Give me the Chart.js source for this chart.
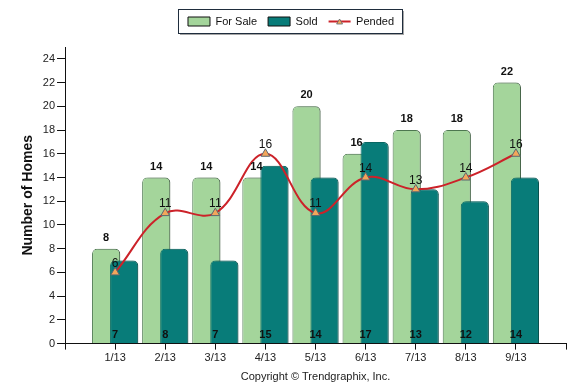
<!DOCTYPE html>
<html lang="en">
  <head>
    <meta charset="utf-8">
    <title>Homes</title>
    <script src="https://cdn.jsdelivr.net/npm/chart.js@4.4.0/dist/chart.umd.min.js"></script>
    <style>
      body { margin: 0; background: #fff; }
    </style>
  </head>
  <body>
    <canvas id="chart" width="582" height="392"></canvas>

    <script type="text/javascript">

    // blank slots at both ends so months sit on ticks
    var months = ["", "1/13", "2/13", "3/13", "4/13", "5/13", "6/13", "7/13", "8/13", "9/13", ""]

    var forSale = [null, 8, 14, 14, 14, 20, 16, 18, 18, 22, null]
    var sold    = [null, 7, 8, 7, 15, 14, 17, 13, 12, 14, null]
    var pended  = [null, 6, 11, 11, 16, 11, 14, 13, 14, 16, null]

    var yTicks = [0, 2, 4, 6, 8, 10, 12, 14, 16, 18, 20, 22, 24]

    Chart.defaults.font.family = "'Liberation Sans', Arial, sans-serif"
    Chart.defaults.color = '#222'

    // draw For Sale, then Sold over it, then the line; value labels; legend frame
    var extras = {
      id: 'extras',
      afterInit: function(chart){
        // leave a gap under the legend
        var fit = chart.legend.fit
        chart.legend.fit = function(){
          fit.call(this)
          this.height += 10
        }
      },
      beforeDatasetsDraw: function(chart){
        var ctx = chart.ctx
        for(var i = 0; i < 3; i++){
          ctx.save()
          if(i < 2){
            ctx.shadowColor = 'rgba(0,0,0,0.25)'
            ctx.shadowOffsetX = 3
            ctx.shadowOffsetY = 0
            ctx.shadowBlur = 1
          }
          chart.getDatasetMeta(i).controller.draw()
          ctx.restore()
        }
        return false
      },
      afterDraw: function(chart){
        var ctx = chart.ctx
        var xs = chart.scales.x
        var y0 = chart.scales.y.getPixelForValue(0)
        ctx.save()
        ctx.fillStyle = '#111'
        ctx.textAlign = 'center'
        ctx.textBaseline = 'middle'

        ctx.font = "bold 11px 'Liberation Sans', Arial, sans-serif"
        chart.getDatasetMeta(0).data.forEach(function(bar, i){
          if(forSale[i] == null) return
          ctx.fillText(forSale[i], bar.x, bar.y - 11)
        })
        sold.forEach(function(v, i){
          if(v == null) return
          ctx.fillText(v, xs.getPixelForValue(i), y0 - 9)
        })

        ctx.font = "12px 'Liberation Sans', Arial, sans-serif"
        chart.getDatasetMeta(2).data.forEach(function(pt, i){
          if(pended[i] == null) return
          ctx.fillText(pended[i], pt.x, pt.y - 9)
        })
        ctx.restore()

        var boxes = chart.legend.legendHitBoxes
        if(!boxes || !boxes.length) return
        var first = boxes[0], last = boxes[boxes.length-1]
        var x1 = first.left - 10, x2 = last.left + last.width + 8
        var y1 = first.top - 7, y2 = first.top + first.height + 6
        ctx.save()
        ctx.fillStyle = 'rgba(0,0,0,0.35)'
        ctx.fillRect(x1 + 2, y1 + 2, x2 - x1, y2 - y1)
        ctx.fillStyle = '#fff'
        ctx.fillRect(x1, y1, x2 - x1, y2 - y1)
        ctx.strokeStyle = '#1f2d3d'
        ctx.lineWidth = 1
        ctx.strokeRect(x1 + 0.5, y1 + 0.5, x2 - x1, y2 - y1)
        ctx.restore()
        // legend again on top of the frame
        chart.legend.draw()
        var p = boxes[2]
        var cx = p.left + 11, cy = p.top + 6
        ctx.save()
        ctx.fillStyle = '#f4a65a'
        ctx.strokeStyle = '#5b6770'
        ctx.lineWidth = 0.8
        ctx.beginPath()
        ctx.moveTo(cx, cy - 3)
        ctx.lineTo(cx + 3, cy + 2)
        ctx.lineTo(cx - 3, cy + 2)
        ctx.closePath()
        ctx.fill()
        ctx.stroke()
        ctx.restore()
      }
    }

    var ctx = document.getElementById('chart').getContext('2d');
    var chart = new Chart(ctx, {
        type: 'bar',
        data: {
            labels: months,
            datasets: [{
                label: 'For Sale',
                data: forSale,
                backgroundColor: '#a4d59b',
                borderColor: '#4f7a52',
                borderWidth: 1,
                borderRadius: {topLeft: 5, topRight: 5},
                borderSkipped: 'bottom',
                categoryPercentage: 0.72,
                barPercentage: 1.56
            }, {
                label: 'Sold',
                data: sold,
                backgroundColor: '#087c79',
                borderColor: '#0a6a66',
                borderWidth: 1,
                borderRadius: {topLeft: 5, topRight: 5},
                borderSkipped: 'bottom',
                categoryPercentage: 0.72,
                barPercentage: 1.56
            }, {
                type: 'line',
                label: 'Pended',
                data: pended,
                borderColor: '#cc2229',
                backgroundColor: '#cc2229',
                borderWidth: 2,
                tension: 0.4,
                pointStyle: 'triangle',
                pointRadius: 5,
                pointBackgroundColor: '#f4a65a',
                pointBorderColor: '#5b6770',
                pointBorderWidth: 1
            }]
        },
        options: {
          responsive: false,
          animation: false,
          devicePixelRatio: 1,
          layout: { padding: { left: 16, right: 16, top: 5, bottom: 8 } },
          plugins: {
            tooltip: { enabled: false },
            legend: {
              labels: {
                usePointStyle: true,
                pointStyleWidth: 22,
                boxHeight: 9,
                padding: 11,
                color: '#111',
                font: { size: 11 },
                generateLabels: function(chart){
                  var items = Chart.defaults.plugins.legend.labels.generateLabels(chart)
                  items.forEach(function(it){
                    if(it.datasetIndex == 2){
                      it.pointStyle = 'line'
                      it.strokeStyle = '#cc2229'
                      it.lineWidth = 2
                    } else {
                      it.pointStyle = 'rect'
                      it.strokeStyle = '#111'
                      it.lineWidth = 1
                    }
                  })
                  return items
                }
              }
            }
          },
          scales: {
            x: {
              offset: false,
              grid: { display: true, drawOnChartArea: false, drawTicks: true, tickLength: 6, offset: false, color: '#111' },
              border: { display: true, color: '#111' },
              ticks: { autoSkip: false, maxRotation: 0, padding: 2, font: { size: 11 }, color: '#222' },
              title: { display: true, text: 'Copyright \u00a9 Trendgraphix, Inc.', font: { size: 11 }, color: '#222', padding: { top: 4, bottom: 0 } }
            },
            y: {
              min: 0,
              max: 25,
              afterBuildTicks: function(scale){
                scale.ticks = yTicks.map(function(v){ return { value: v } })
              },
              grid: { display: true, drawOnChartArea: false, drawTicks: true, tickLength: 8, color: '#111' },
              border: { display: true, color: '#111' },
              ticks: { padding: 2, font: { size: 11 }, color: '#222' },
              title: { display: true, text: 'Number of Homes', font: { size: 14, weight: 'bold' }, color: '#111', padding: { top: 4, bottom: 4 } }
            }
          }
        },
        plugins: [extras]
    });

    </script>
  </body>
</html>
